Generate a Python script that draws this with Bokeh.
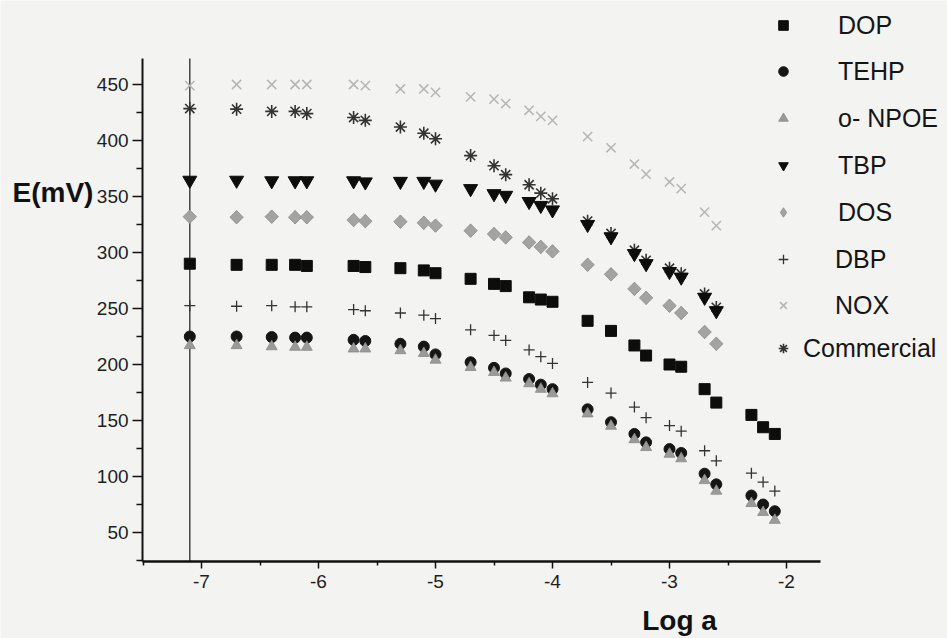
from bokeh.plotting import figure
from bokeh.models import FixedTicker, Label, Legend, LegendItem
from bokeh.embed import file_html
from bokeh.resources import INLINE

# ---------------- data ----------------
log_a = [-7.1, -6.7, -6.4, -6.2, -6.1, -5.7, -5.6, -5.3, -5.1, -5.0, -4.7, -4.5, -4.4,
         -4.2, -4.1, -4.0, -3.7, -3.5, -3.3, -3.2, -3.0, -2.9, -2.7, -2.6, -2.3, -2.2, -2.1]

dop = [290, 289, 289, 289, 288, 288, 287, 286, 284, 281.5, 276.5, 272, 270, 260, 258, 256,
       239, 230, 217, 208, 200, 198, 178, 166, 155, 144, 138]
tehp = [225, 225, 224.5, 224, 224, 222, 221, 218.5, 216, 209, 202, 197, 192, 187, 182, 178,
        160, 148.5, 138, 130.5, 124.5, 121, 102.5, 93, 83, 75, 69]
npoe = [217, 217, 216, 215.5, 215.5, 214, 214, 212.5, 210, 204, 197.5, 193, 188, 183, 178, 174,
        156, 145, 133, 126, 120, 116, 96.5, 87, 76, 68, 61]
dbp = [252.5, 252, 252.5, 251.5, 251.5, 249, 248, 246, 244, 241, 231, 226, 221.5, 213, 207, 201,
       184, 174.5, 162, 152.5, 145.5, 140.5, 123, 114, 103, 95, 87]
tbp = [364.5, 364.5, 364, 364, 364, 364, 363, 363.5, 363.5, 361, 357, 352.5, 351, 345.5, 342, 338,
       325, 314, 299, 290, 283, 278, 260, 248]
dos = [332, 331.5, 332, 331.5, 331.5, 329, 328, 327.5, 326.5, 324, 319.5, 316.5, 313.5, 309, 305, 301,
       289, 280.5, 267.5, 259.5, 252.5, 246, 229, 218.5]
nox = [449, 450, 450, 450, 450, 450, 449, 446, 446, 443, 439, 437, 433, 427, 421.5, 418,
       403.5, 393.5, 379, 370, 363, 357, 336, 324]
commercial = [428.5, 428, 426, 426, 424, 420.5, 418, 412, 406.5, 401.5, 386.5, 377.5, 369.5, 360.5,
              353, 348, 328, 317, 302, 293, 286, 281, 263, 251]

x_ticks = [-7, -6, -5, -4, -3, -2]
x_tick_labels = ["-7", "-6", "-5", "-4", "-3", "-2"]
x_minor = [-7.5, -6.5, -5.5, -4.5, -3.5, -2.5]
y_ticks = [50, 100, 150, 200, 250, 300, 350, 400, 450]
y_minor = [25, 75, 125, 175, 225, 275, 325, 375, 425]
x_axis_bounds = (-7.504, -1.709)
y_axis_bounds = (24.1, 473.2)
marker_line = -7.1

BG = "#f3f3f1"
FONT = "Liberation Sans"
W, H = 947, 638

p = figure(width=W, height=H, output_backend="svg", toolbar_location=None, title=None,
           x_range=(-8.718, -0.624), y_range=(-44.64, 525.0),
           min_border=0, min_border_left=0, min_border_right=0,
           min_border_top=0, min_border_bottom=0)
p.background_fill_color = BG
p.border_fill_color = BG
p.outline_line_color = None
p.grid.visible = False

xa = p.xaxis[0]
xa.fixed_location = y_axis_bounds[0]
xa.bounds = x_axis_bounds
xa.ticker = FixedTicker(ticks=x_ticks, minor_ticks=x_minor)
xa.major_label_overrides = {t: s for t, s in zip(x_ticks, x_tick_labels)}
xa.axis_line_width = 2.5
xa.axis_line_color = "#111111"
xa.major_tick_line_color = "#111111"
xa.minor_tick_line_color = "#111111"
xa.major_tick_line_width = 1.5
xa.minor_tick_line_width = 1.5
xa.major_tick_in = 0
xa.major_tick_out = 7
xa.minor_tick_in = 0
xa.minor_tick_out = 4
xa.major_label_standoff = 6
xa.major_label_text_font = FONT
xa.major_label_text_font_size = "19px"
xa.major_label_text_color = "#1e1e1e"

ya = p.yaxis[0]
ya.fixed_location = x_axis_bounds[0]
ya.bounds = y_axis_bounds
ya.ticker = FixedTicker(ticks=y_ticks, minor_ticks=y_minor)
ya.axis_line_width = 2
ya.axis_line_color = "#111111"
ya.major_tick_line_color = "#111111"
ya.minor_tick_line_color = "#111111"
ya.major_tick_line_width = 1.5
ya.minor_tick_line_width = 1.5
ya.major_tick_in = 0
ya.major_tick_out = 10
ya.minor_tick_in = 0
ya.minor_tick_out = 6
ya.major_label_standoff = 4
ya.major_label_text_font = FONT
ya.major_label_text_font_size = "19px"
ya.major_label_text_color = "#1e1e1e"

# vertical reference line at the first activity value
p.segment(x0=[marker_line], y0=[y_axis_bounds[0]], x1=[marker_line], y1=[y_axis_bounds[1]],
          line_color="#2a2a2a", line_width=1.3)

def xs(ys):
    return log_a[:len(ys)]

r_nox = p.scatter(xs(nox), nox, marker="x", size=13, line_color="#b5b5b5", line_width=1.5)
r_com = p.scatter(xs(commercial), commercial, marker="asterisk", size=13, line_color="#333333", line_width=1.6)
# DOS: a diamond key glyph (used by the legend) hidden under the rotated-square markers
r_dos_key = p.scatter(xs(dos), dos, marker="diamond", size=13, fill_color="#a3a3a3",
                      line_color="#8e8e8e", line_width=0.8)
r_dos = p.scatter(xs(dos), dos, marker="square", angle=0.785, size=9.5, fill_color="#a3a3a3",
                  line_color="#8e8e8e", line_width=0.8)
r_tbp = p.scatter(xs(tbp), tbp, marker="inverted_triangle", size=14, fill_color="#0d0d0d", line_color="#0d0d0d")
r_dop = p.scatter(xs(dop), dop, marker="square", size=11, fill_color="#0d0d0d", line_color="#0d0d0d")
r_dbp = p.scatter(xs(dbp), dbp, marker="cross", size=11, line_color="#333333", line_width=1.3)
r_tehp = p.scatter(xs(tehp), tehp, marker="circle", size=11, fill_color="#151515", line_color="#151515")
r_npoe = p.scatter(xs(npoe), npoe, marker="triangle", size=11, fill_color="#9a9a9a",
                   line_color="#8a8a8a", line_width=0.8)

# legend entries: (label, renderer, marker centre y in px from top, label standoff)
legend_specs = [
    ("DOP", r_dop, 25, 43),
    ("TEHP", r_tehp, 71, 43),
    ("o- NPOE", r_npoe, 118, 43),
    ("TBP", r_tbp, 165, 43),
    ("DOS", r_dos_key, 212, 43),
    ("DBP", r_dbp, 259, 40),
    ("NOX", r_nox, 305, 40),
    ("Commercial", r_com, 348, 8),
]
for lab, rend, yc, stand in legend_specs:
    lg = Legend(items=[LegendItem(label=lab, renderers=[rend])],
                location=(771, H - yc - 15),
                glyph_width=24, glyph_height=30, label_height=30,
                label_standoff=stand, padding=0, margin=0, spacing=0,
                border_line_color=None, background_fill_alpha=0,
                label_text_font=FONT, label_text_font_size="25px",
                label_text_color="#151515")
    p.add_layout(lg)

p.add_layout(Label(x=12, y=H - 192, x_units="screen", y_units="screen", text="E(mV)",
                   text_font=FONT, text_font_style="bold", text_font_size="28px",
                   text_color="#111111", text_baseline="middle", text_align="left"))
p.add_layout(Label(x=679, y=H - 620, x_units="screen", y_units="screen", text="Log a",
                   text_font=FONT, text_font_style="bold", text_font_size="28px",
                   text_color="#111111", text_baseline="middle", text_align="center"))

open("out.html", "w").write(file_html(p, INLINE))
